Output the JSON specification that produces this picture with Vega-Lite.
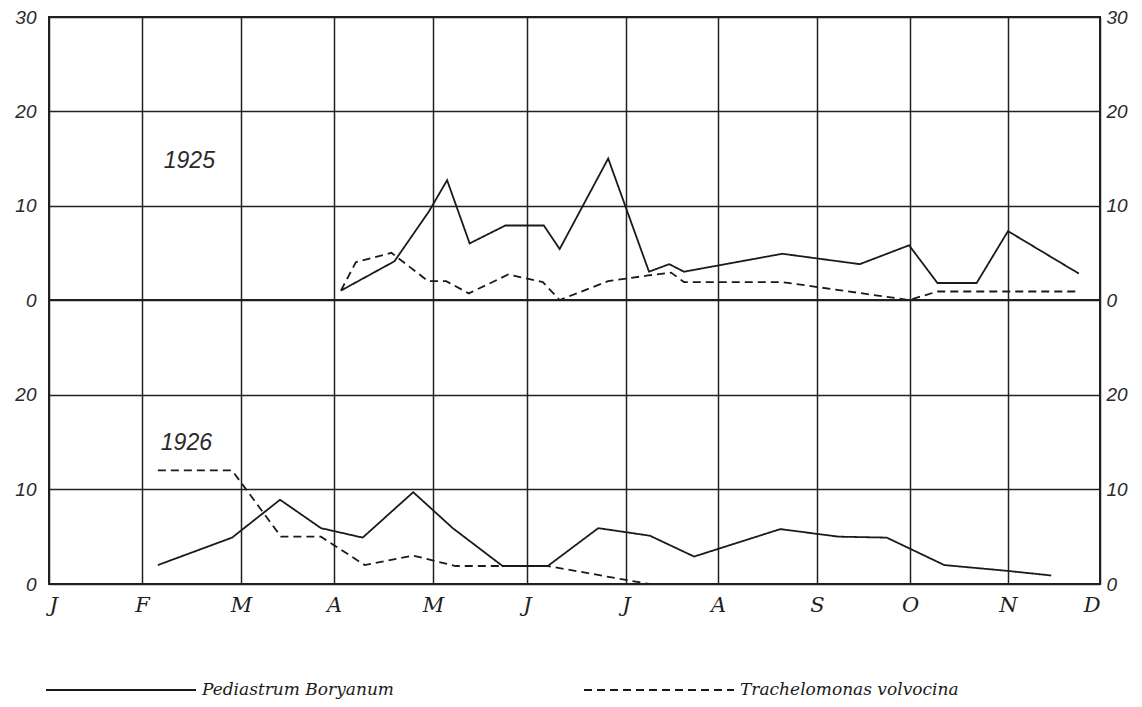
{
  "$schema": "https://vega.github.io/schema/vega-lite/v6.json",
  "background": "white",
  "padding": {"left": 13, "top": 7, "right": 5, "bottom": 5},
  "spacing": 0,
  "bounds": "flush",
  "config": {
    "view": {"stroke": "#1e1e1e", "strokeWidth": 2},
    "axis": {
      "gridColor": "#222222",
      "gridWidth": 1.5,
      "gridOpacity": 1,
      "labelFont": "Liberation Sans",
      "labelFontStyle": "italic",
      "labelFontSize": 19,
      "labelColor": "#2a2a2a",
      "ticks": false,
      "domain": false,
      "title": null
    },
    "legend": {
      "orient": "none",
      "direction": "horizontal",
      "legendX": -4,
      "legendY": 597,
      "symbolType": "stroke",
      "symbolSize": 22500,
      "symbolStrokeWidth": 1.8,
      "symbolStrokeColor": "#1a1a1a",
      "labelFont": "DejaVu Serif",
      "labelFontStyle": "italic",
      "labelFontSize": 17,
      "labelColor": "#1a1a1a",
      "labelOffset": 5,
      "labelLimit": 400,
      "columnPadding": 186,
      "title": null
    }
  },
  "datasets": {
    "counts": [
      {"year": 1925, "species": "Pediastrum Boryanum", "month": 3.07, "count": 1.0},
      {"year": 1925, "species": "Pediastrum Boryanum", "month": 3.61, "count": 4.1},
      {"year": 1925, "species": "Pediastrum Boryanum", "month": 3.96, "count": 9.4},
      {"year": 1925, "species": "Pediastrum Boryanum", "month": 4.15, "count": 12.7},
      {"year": 1925, "species": "Pediastrum Boryanum", "month": 4.39, "count": 6.0},
      {"year": 1925, "species": "Pediastrum Boryanum", "month": 4.77, "count": 7.9},
      {"year": 1925, "species": "Pediastrum Boryanum", "month": 5.17, "count": 7.9},
      {"year": 1925, "species": "Pediastrum Boryanum", "month": 5.33, "count": 5.4},
      {"year": 1925, "species": "Pediastrum Boryanum", "month": 5.82, "count": 15.0},
      {"year": 1925, "species": "Pediastrum Boryanum", "month": 6.25, "count": 3.0},
      {"year": 1925, "species": "Pediastrum Boryanum", "month": 6.47, "count": 3.8},
      {"year": 1925, "species": "Pediastrum Boryanum", "month": 6.63, "count": 3.0},
      {"year": 1925, "species": "Pediastrum Boryanum", "month": 7.65, "count": 4.9},
      {"year": 1925, "species": "Pediastrum Boryanum", "month": 8.46, "count": 3.8},
      {"year": 1925, "species": "Pediastrum Boryanum", "month": 8.99, "count": 5.8},
      {"year": 1925, "species": "Pediastrum Boryanum", "month": 9.28, "count": 1.8},
      {"year": 1925, "species": "Pediastrum Boryanum", "month": 9.68, "count": 1.8},
      {"year": 1925, "species": "Pediastrum Boryanum", "month": 10.0, "count": 7.3},
      {"year": 1925, "species": "Pediastrum Boryanum", "month": 10.77, "count": 2.8},
      {"year": 1925, "species": "Trachelomonas volvocina", "month": 3.07, "count": 1.0},
      {"year": 1925, "species": "Trachelomonas volvocina", "month": 3.22, "count": 4.0},
      {"year": 1925, "species": "Trachelomonas volvocina", "month": 3.58, "count": 5.0},
      {"year": 1925, "species": "Trachelomonas volvocina", "month": 3.95, "count": 2.0},
      {"year": 1925, "species": "Trachelomonas volvocina", "month": 4.14, "count": 2.0},
      {"year": 1925, "species": "Trachelomonas volvocina", "month": 4.38, "count": 0.7},
      {"year": 1925, "species": "Trachelomonas volvocina", "month": 4.8, "count": 2.7},
      {"year": 1925, "species": "Trachelomonas volvocina", "month": 5.16, "count": 1.9},
      {"year": 1925, "species": "Trachelomonas volvocina", "month": 5.33, "count": 0.0},
      {"year": 1925, "species": "Trachelomonas volvocina", "month": 5.82, "count": 2.0},
      {"year": 1925, "species": "Trachelomonas volvocina", "month": 6.24, "count": 2.6},
      {"year": 1925, "species": "Trachelomonas volvocina", "month": 6.49, "count": 2.9},
      {"year": 1925, "species": "Trachelomonas volvocina", "month": 6.63, "count": 1.9},
      {"year": 1925, "species": "Trachelomonas volvocina", "month": 7.65, "count": 1.9},
      {"year": 1925, "species": "Trachelomonas volvocina", "month": 8.99, "count": 0.0},
      {"year": 1925, "species": "Trachelomonas volvocina", "month": 9.28, "count": 0.9},
      {"year": 1925, "species": "Trachelomonas volvocina", "month": 10.77, "count": 0.9},
      {"year": 1926, "species": "Pediastrum Boryanum", "month": 1.16, "count": 2.0},
      {"year": 1926, "species": "Pediastrum Boryanum", "month": 1.91, "count": 4.9},
      {"year": 1926, "species": "Pediastrum Boryanum", "month": 2.42, "count": 8.9},
      {"year": 1926, "species": "Pediastrum Boryanum", "month": 2.86, "count": 5.9},
      {"year": 1926, "species": "Pediastrum Boryanum", "month": 3.29, "count": 4.9},
      {"year": 1926, "species": "Pediastrum Boryanum", "month": 3.8, "count": 9.7},
      {"year": 1926, "species": "Pediastrum Boryanum", "month": 4.21, "count": 5.9},
      {"year": 1926, "species": "Pediastrum Boryanum", "month": 4.74, "count": 1.9},
      {"year": 1926, "species": "Pediastrum Boryanum", "month": 5.21, "count": 1.9},
      {"year": 1926, "species": "Pediastrum Boryanum", "month": 5.72, "count": 5.9},
      {"year": 1926, "species": "Pediastrum Boryanum", "month": 6.26, "count": 5.1},
      {"year": 1926, "species": "Pediastrum Boryanum", "month": 6.74, "count": 2.9},
      {"year": 1926, "species": "Pediastrum Boryanum", "month": 7.63, "count": 5.8},
      {"year": 1926, "species": "Pediastrum Boryanum", "month": 8.23, "count": 5.0},
      {"year": 1926, "species": "Pediastrum Boryanum", "month": 8.75, "count": 4.9},
      {"year": 1926, "species": "Pediastrum Boryanum", "month": 9.35, "count": 2.0},
      {"year": 1926, "species": "Pediastrum Boryanum", "month": 9.98, "count": 1.4},
      {"year": 1926, "species": "Pediastrum Boryanum", "month": 10.47, "count": 0.9},
      {"year": 1926, "species": "Trachelomonas volvocina", "month": 1.16, "count": 12.0},
      {"year": 1926, "species": "Trachelomonas volvocina", "month": 1.91, "count": 12.0},
      {"year": 1926, "species": "Trachelomonas volvocina", "month": 2.43, "count": 5.0},
      {"year": 1926, "species": "Trachelomonas volvocina", "month": 2.86, "count": 5.0},
      {"year": 1926, "species": "Trachelomonas volvocina", "month": 3.31, "count": 2.0},
      {"year": 1926, "species": "Trachelomonas volvocina", "month": 3.8, "count": 3.0},
      {"year": 1926, "species": "Trachelomonas volvocina", "month": 4.24, "count": 1.9},
      {"year": 1926, "species": "Trachelomonas volvocina", "month": 5.21, "count": 1.9},
      {"year": 1926, "species": "Trachelomonas volvocina", "month": 6.25, "count": 0.0}
    ],
    "years": [
      {"year": 1925, "month": 1.22, "count": 14.7, "label": "1925"},
      {"year": 1926, "month": 1.19, "count": 14.9, "label": "1926"}
    ]
  },
  "vconcat": [
    {
      "width": 1051,
      "height": 283,
      "layer": [
        {
          "data": {"name": "counts"},
          "transform": [{"filter": "datum.year == 1925"}],
          "mark": {"type": "line", "strokeWidth": 1.8, "color": "#1a1a1a"},
          "encoding": {
            "x": {
              "field": "month", "type": "quantitative",
              "scale": {"domain": [0, 1, 2, 3, 4, 5, 6, 7, 8, 9, 10, 11], "range": [0, 93, 192, 285, 384, 478, 577, 669, 768, 861, 959, 1051], "nice": false, "zero": false},
              "axis": {"values": [0, 1, 2, 3, 4, 5, 6, 7, 8, 9, 10, 11], "grid": true, "labels": false}
            },
            "y": {
              "field": "count", "type": "quantitative",
              "scale": {"domain": [0, 30], "nice": false},
              "axis": {"values": [0, 10, 20, 30], "grid": true, "orient": "left", "labelPadding": 13}
            },
            "strokeDash": {
              "field": "species", "type": "nominal",
              "scale": {"domain": ["Pediastrum Boryanum", "Trachelomonas volvocina"], "range": [[1, 0], [8, 5]]}
            }
          }
        },
        {
          "data": {"name": "counts"},
          "transform": [{"filter": "datum.year == 1925"}],
          "mark": {"type": "point", "opacity": 0},
          "encoding": {
            "x": {"field": "month", "type": "quantitative"},
            "y": {
              "field": "count", "type": "quantitative",
              "axis": {"values": [0, 10, 20, 30], "grid": false, "orient": "right", "labelPadding": 6}
            }
          }
        },
        {
          "data": {"name": "years"},
          "transform": [{"filter": "datum.year == 1925"}],
          "mark": {"type": "text", "align": "left", "baseline": "middle", "font": "Liberation Sans", "fontStyle": "italic", "fontSize": 23, "color": "#2a2a2a"},
          "encoding": {
            "x": {"field": "month", "type": "quantitative"},
            "y": {"field": "count", "type": "quantitative", "axis": null},
            "text": {"field": "label"}
          }
        }
      ],
      "resolve": {"axis": {"y": "independent"}}
    },
    {
      "width": 1051,
      "height": 284,
      "layer": [
        {
          "data": {"name": "counts"},
          "transform": [{"filter": "datum.year == 1926"}],
          "mark": {"type": "line", "strokeWidth": 1.8, "color": "#1a1a1a"},
          "encoding": {
            "x": {
              "field": "month", "type": "quantitative",
              "scale": {"domain": [0, 1, 2, 3, 4, 5, 6, 7, 8, 9, 10, 11], "range": [0, 93, 192, 285, 384, 478, 577, 669, 768, 861, 959, 1051], "nice": false, "zero": false},
              "axis": {
                "values": [0, 1, 2, 3, 4, 5, 6, 7, 8, 9, 10, 11], "grid": true,
                "labelExpr": "['J','F','M','A','M','J','J','A','S','O','N','D'][datum.value]",
                "labelFont": "DejaVu Serif", "labelFontSize": 21, "labelPadding": 10, "labelColor": "#1e1e1e"
              }
            },
            "y": {
              "field": "count", "type": "quantitative",
              "scale": {"domain": [0, 30], "nice": false},
              "axis": {"values": [0, 10, 20], "grid": true, "orient": "left", "labelPadding": 13}
            },
            "strokeDash": {
              "field": "species", "type": "nominal",
              "scale": {"domain": ["Pediastrum Boryanum", "Trachelomonas volvocina"], "range": [[1, 0], [8, 5]]}
            }
          }
        },
        {
          "data": {"name": "counts"},
          "transform": [{"filter": "datum.year == 1926"}],
          "mark": {"type": "point", "opacity": 0},
          "encoding": {
            "x": {"field": "month", "type": "quantitative"},
            "y": {
              "field": "count", "type": "quantitative",
              "axis": {"values": [0, 10, 20], "grid": false, "orient": "right", "labelPadding": 6}
            }
          }
        },
        {
          "data": {"name": "years"},
          "transform": [{"filter": "datum.year == 1926"}],
          "mark": {"type": "text", "align": "left", "baseline": "middle", "font": "Liberation Sans", "fontStyle": "italic", "fontSize": 23, "color": "#2a2a2a"},
          "encoding": {
            "x": {"field": "month", "type": "quantitative"},
            "y": {"field": "count", "type": "quantitative", "axis": null},
            "text": {"field": "label"}
          }
        }
      ],
      "resolve": {"axis": {"y": "independent"}}
    }
  ]
}
